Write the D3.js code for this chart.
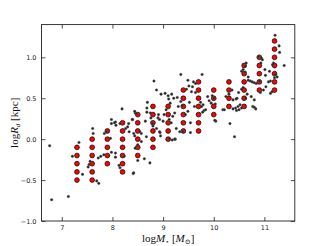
<!DOCTYPE html>
<html>
<head>
<meta charset="utf-8">
<script src="https://cdn.jsdelivr.net/npm/d3@7"></script>
<style>
  body { margin: 0; background: #fff; }
  svg { display: block; }
  .tick text { font-family: "DejaVu Sans", sans-serif; font-size: 6.5px; fill: #222; }
  .axis-label { font-family: "Liberation Serif", "DejaVu Serif", serif; font-size: 11px; fill: #111; }
</style>
</head>
<body>
<svg id="chart" width="328" height="246"></svg>
<script>
// model grid (red markers): one column of log R_d values per log M* value
var gridMass = [7.3, 7.6, 7.9, 8.2, 8.5, 8.8, 9.1, 9.4, 9.7, 10.0, 10.3, 10.6, 10.9, 11.2]
var gridRadius = [
    [-0.1, -0.2, -0.3, -0.4, -0.5],
    [0.0, -0.1, -0.2, -0.3, -0.4, -0.5],
    [0.1, 0.0, -0.1, -0.2, -0.3],
    [0.2, 0.1, 0.0, -0.1, -0.2, -0.3, -0.4],
    [0.3, 0.2, 0.1, 0.0, -0.1, -0.2],
    [0.4, 0.3, 0.2, 0.1, 0.0, -0.1],
    [0.4, 0.3, 0.2, 0.1, 0.0],
    [0.6, 0.5, 0.4, 0.3, 0.2, 0.1],
    [0.7, 0.6, 0.5, 0.4, 0.3, 0.2, 0.1],
    [0.6, 0.5, 0.4, 0.3],
    [0.7, 0.6, 0.5, 0.4],
    [0.9, 0.8, 0.7, 0.6, 0.5, 0.4],
    [1.0, 0.9, 0.8, 0.7, 0.6],
    [1.2, 1.1, 1.0, 0.9, 0.8, 0.7, 0.6]
]

// observed galaxies (black dots): [log M*, log R_d]
var obsGalaxies = [
    [6.76, -0.08], [6.80, -0.74], [7.13, -0.70],
    [7.21, -0.21], [7.34, -0.04], [7.41, -0.43], [7.52, -0.34], [7.54, -0.31], [7.56, -0.27],
    [7.61, 0.13], [7.62, 0.07], [7.69, -0.51], [7.73, -0.54],
    [7.72, -0.23], [7.77, -0.21], [7.83, -0.19], [7.84, 0.07], [7.88, 0.09],
    [7.96, 0.01], [7.98, -0.16], [8.06, -0.17], [8.06, -0.22], [8.15, -0.35], [8.13, -0.32],
    [7.98, 0.19], [8.06, 0.21], [8.15, 0.19], [7.98, 0.24], [8.04, 0.20], [8.07, 0.17],
    [8.19, 0.37], [8.23, -0.21], [8.26, 0.13], [8.32, 0.19], [8.39, 0.24], [8.40, 0.24], [8.45, 0.32],
    [8.30, 0.15], [8.33, 0.09], [8.44, 0.34], [8.47, 0.31], [8.42, 0.07], [8.44, 0.04],
    [8.42, -0.41], [8.41, -0.42], [8.45, -0.11], [8.50, -0.26], [8.57, -0.03], [8.63, -0.24], [8.74, -0.29],
    [8.50, -0.07], [8.54, 0.09], [8.57, 0.07], [8.67, 0.03], [8.76, 0.26], [8.75, 0.32],
    [8.68, 0.38], [8.68, 0.33], [8.69, 0.45], [8.65, 0.22], [8.79, 0.19], [8.80, 0.16],
    [8.82, 0.71], [8.87, 0.60], [8.96, 0.55], [9.04, 0.56], [9.10, 0.53], [9.17, 0.55],
    [9.21, 0.50], [9.28, 0.51], [9.11, 0.49], [9.35, 0.46], [9.38, 0.41], [9.35, 0.79],
    [8.90, 0.26], [8.93, 0.24], [9.00, 0.22], [9.12, 0.24], [9.16, 0.20], [9.19, 0.28], [9.23, 0.32],
    [8.91, 0.30], [8.94, 0.08],
    [8.87, 0.13], [8.93, 0.09], [8.95, 0.04], [9.26, 0.13], [9.33, 0.09], [9.12, 0.01], [9.18, -0.01], [9.24, 0.00],
    [9.49, 0.34], [9.49, 0.72], [9.60, 0.70], [9.64, 0.68], [9.51, 0.65], [9.58, 0.64], [9.46, 0.61],
    [9.56, 0.58], [9.64, 0.57], [9.77, 0.79], [9.97, 0.53], [10.00, 0.50], [9.95, 0.44], [10.03, 0.43],
    [9.52, 0.45], [9.74, 0.45], [9.76, 0.40], [9.79, 0.42], [9.81, 0.35], [9.78, 0.33], [9.84, 0.36],
    [10.18, 0.36], [10.21, 0.36], [10.38, 0.48], [10.04, 0.22], [10.02, 0.23], [9.54, 0.20], [10.32, 0.19],
    [9.39, 0.09], [9.54, 0.08], [10.41, 0.03], [9.88, 0.52], [9.91, 0.47], [9.62, 0.40], [9.44, 0.30],
    [9.30, 0.40], [9.02, 0.30], [9.06, 0.36], [9.14, 0.44], [9.23, 0.00],
    [10.38, 0.37], [10.43, 0.38], [10.45, 0.35], [10.48, 0.40], [10.52, 0.42], [10.50, 0.36], [10.55, 0.38],
    [10.46, 0.50], [10.44, 0.49], [10.49, 0.57], [10.55, 0.61], [10.58, 0.63],
    [10.55, 0.83], [10.58, 0.85], [10.62, 0.82], [10.68, 0.76],
    [10.68, 0.72], [10.72, 0.71], [10.76, 0.70], [10.80, 0.69], [10.84, 0.68], [10.90, 0.71],
    [10.63, 0.50], [10.66, 0.55], [10.74, 0.52], [10.80, 0.48],
    [10.77, 0.40], [10.80, 0.39], [10.83, 0.37],
    [10.88, 1.01], [10.94, 0.99], [10.96, 0.97], [10.93, 0.93],
    [10.92, 0.57], [10.98, 0.60], [11.03, 0.64], [11.08, 0.70], [11.12, 0.71],
    [11.01, 0.85], [11.10, 0.83], [11.16, 0.91], [11.22, 0.79], [11.20, 0.75], [11.25, 0.76],
    [11.21, 1.27], [11.29, 1.14], [11.30, 1.06], [11.39, 0.90],
    [11.15, 0.58], [11.12, 0.56], [11.18, 0.93], [11.02, 0.78],
    [10.24, 0.52], [10.30, 0.55], [10.36, 0.60], [10.62, 0.89], [10.64, 0.93]
]

var xTicks = [7, 8, 9, 10, 11]
var yTicks = [-1.0, -0.5, 0.0, 0.5, 1.0]

var plotLeft = 41.5, plotRight = 294.8, plotTop = 24.6, plotBottom = 221

var svg = d3.select('#chart')

var xScale = d3.scaleLinear()
    .domain([6.6, 11.6])
    .range([plotLeft, plotRight])
var yScale = d3.scaleLinear()
    .domain([-1.0, 1.4])
    .range([plotBottom, plotTop])

// axes, ticks pointing inward
svg.append('g')
    .attr('transform', 'translate(0,' + plotBottom + ')')
    .call(d3.axisBottom(xScale).tickValues(xTicks).tickSizeInner(-4).tickSizeOuter(0).tickPadding(4).tickFormat(d3.format('d')))
svg.append('g')
    .attr('transform', 'translate(0,' + plotTop + ')')
    .call(d3.axisTop(xScale).tickValues(xTicks).tickSizeInner(-4).tickSizeOuter(0).tickFormat(''))
svg.append('g')
    .attr('transform', 'translate(' + plotLeft + ',0)')
    .call(d3.axisLeft(yScale).tickValues(yTicks).tickSizeInner(-4).tickSizeOuter(0).tickPadding(5).tickFormat(d3.format('.1f')))
svg.append('g')
    .attr('transform', 'translate(' + plotRight + ',0)')
    .call(d3.axisRight(yScale).tickValues(yTicks).tickSizeInner(-4).tickSizeOuter(0).tickFormat(''))

svg.selectAll('.domain').remove()
svg.selectAll('.tick line').attr('stroke', '#222').attr('stroke-width', 0.8)

// red model grid
var gridPoints = []
for (let i = 0; i < gridMass.length; i++) {
    for (let j = 0; j < gridRadius[i].length; j++) {
        gridPoints.push([gridMass[i], gridRadius[i][j]])
    }
}
svg.append('g')
    .selectAll('circle')
    .data(gridPoints)
    .enter()
    .append('circle')
    .attr('cx', function(d) { return xScale(d[0]) })
    .attr('cy', function(d) { return yScale(d[1]) })
    .attr('r', 2.4)
    .attr('fill', '#ff0000')
    .attr('stroke', '#000')
    .attr('stroke-width', 0.7)

// black observed dots
svg.append('g')
    .selectAll('circle')
    .data(obsGalaxies)
    .enter()
    .append('circle')
    .attr('cx', function(d) { return xScale(d[0]) })
    .attr('cy', function(d) { return yScale(d[1]) })
    .attr('r', 1.3)
    .attr('fill', '#222')
    .attr('stroke', '#666')
    .attr('stroke-width', 0.4)

// frame
svg.append('rect')
    .attr('x', plotLeft)
    .attr('y', plotTop)
    .attr('width', plotRight - plotLeft)
    .attr('height', plotBottom - plotTop)
    .attr('fill', 'none')
    .attr('stroke', '#222')
    .attr('stroke-width', 0.9)

// axis labels
var xLabel = svg.append('text')
    .attr('class', 'axis-label')
    .attr('x', (plotLeft + plotRight) / 2)
    .attr('y', 242)
    .attr('text-anchor', 'middle')
xLabel.append('tspan').text('log')
xLabel.append('tspan').attr('font-style', 'italic').text('M')
xLabel.append('tspan').attr('font-size', '7px').attr('dy', 2).text('\u22C6')
xLabel.append('tspan').attr('dy', -2).text(' [')
xLabel.append('tspan').attr('font-style', 'italic').text('M')
xLabel.append('tspan').attr('font-size', '7px').attr('dy', 2).text('\u2299')
xLabel.append('tspan').attr('dy', -2).text(']')

var yLabel = svg.append('text')
    .attr('class', 'axis-label')
    .attr('transform', 'translate(18,' + ((plotTop + plotBottom) / 2) + ') rotate(-90)')
    .attr('text-anchor', 'middle')
yLabel.append('tspan').text('log')
yLabel.append('tspan').attr('font-style', 'italic').text('R')
yLabel.append('tspan').attr('font-size', '7px').attr('font-style', 'italic').attr('dy', 2).text('d')
yLabel.append('tspan').attr('dy', -2).text(' [kpc]')
</script>
</body>
</html>
